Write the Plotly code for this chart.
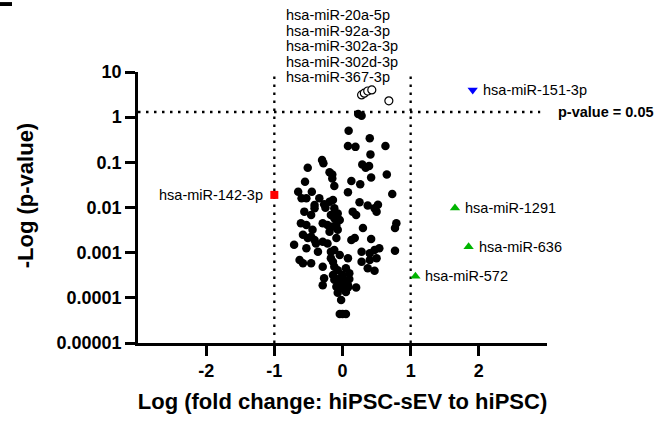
import math
import plotly.graph_objects as go

# ---------------- data ----------------
# non-significant miRNAs (filled black)
black_fc = [0.23, 0.28, 0.09, 0.08, 0.19, 0.40, 0.63, 0.41, -0.30, -0.28,
            -0.51, 0.29, 0.34, 0.39, -0.19, -0.15, 0.65, 0.42, -0.15, -0.55,
            0.13, 0.26, -0.12, -0.65, -0.60, -0.45, 0.08, 0.73, -0.34, -0.53,
            -0.14, 0.25, 0.37, 0.52, -0.27, -0.41, -0.19, -0.56, -0.46, -0.17,
            -0.12, -0.07, 0.15, 0.20, 0.50, -0.61, -0.53, -0.29, -0.22, -0.09,
            -0.14, 0.79, 0.77, -0.44, -0.19, -0.07, 0.30, -0.58, -0.51, -0.41,
            -0.29, -0.22, -0.71, -0.09, 0.13, 0.18, 0.42, -0.53, -0.36, -0.17,
            -0.12, 0.28, 0.40, 0.47, 0.54, 0.77, -0.17, -0.14, 0.08, 0.28,
            0.40, 0.50, -0.63, -0.58, -0.46, -0.29, -0.12, -0.07, 0.05, 0.37,
            0.47, -0.14, 0.00, 0.10, -0.27, -0.29, -0.12, -0.04, 0.05, -0.09,
            0.00, 0.08, 0.20, -0.07, 0.05, -0.02, -0.04, 0.00, 0.05,
            0.47, -0.04, -0.04, 0.00, 0.10, -0.39, -0.46, -0.04, 0.08, -0.25,
            -0.12, -0.41]
black_p = [1.17, 1.08, 0.50, 0.23, 0.22, 0.34, 0.23, 0.15, 0.112, 0.095,
           0.076, 0.090, 0.076, 0.083, 0.060, 0.054, 0.054, 0.046, 0.044, 0.037,
           0.0385, 0.0326, 0.030, 0.0224, 0.0160, 0.0224, 0.0217, 0.0199, 0.0160, 0.0160,
           0.0147, 0.0130, 0.0111, 0.0115, 0.0118, 0.0114, 0.0134, 0.0081, 0.0068, 0.0068,
           0.0058, 0.0074, 0.0081, 0.0068, 0.0081, 0.0045, 0.0041, 0.0045, 0.0041, 0.0041,
           0.0038, 0.0045, 0.0035, 0.0032, 0.0029, 0.0032, 0.0035, 0.0025, 0.0021, 0.0019,
           0.00175, 0.0016, 0.0015, 0.0021, 0.0019, 0.0021, 0.0020, 0.00125, 0.00105, 0.00105,
           0.00115, 0.00105, 0.00097, 0.00115, 0.00125, 0.0011, 0.00075, 0.00063, 0.00075, 0.00063,
           0.00069, 0.00075, 0.00069, 0.00058, 0.00058, 0.00049, 0.00049, 0.00041, 0.00045, 0.00045,
           0.0004, 0.00032, 0.00032, 0.00035, 0.00027, 0.00019, 0.00025, 0.00027, 0.00023, 0.000176,
           0.000163, 0.00017, 0.00017, 0.00013, 0.000135, 0.00009, 0.000044, 0.000044, 0.000044,
           0.0096, 0.0053, 0.00089, 0.00025, 0.00026, 0.0016, 0.00225, 0.00019, 0.00019, 0.0099,
           0.0096, 0.0096]

# significant miRNAs (open circles)
open_fc = [0.28, 0.32, 0.37, 0.43, 0.68]
open_p = [3.1, 3.4, 3.8, 4.0, 2.3]
open_names = ["hsa-miR-20a-5p", "hsa-miR-92a-3p", "hsa-miR-302a-3p",
              "hsa-miR-302d-3p", "hsa-miR-367-3p"]

# highlighted miRNAs
down_name, down_fc, down_p = "hsa-miR-142-3p", -1.0, 0.019
blue_name, blue_fc, blue_p = "hsa-miR-151-3p", 1.91, 4.0
green_names = ["hsa-miR-1291", "hsa-miR-636", "hsa-miR-572"]
green_fc = [1.65, 1.85, 1.07]
green_p = [0.0098, 0.00135, 0.0003]

p_threshold = 1.301  # -log10(0.05)
fc_thresholds = [-1, 1]

y_tickvals = [0.00001, 0.0001, 0.001, 0.01, 0.1, 1, 10]
y_ticktext = ["0.00001", "0.0001", "0.001", "0.01", "0.1", "1", "10"]
x_tickvals = [-2, -1, 0, 1, 2]
x_ticktext = ["-2", "-1", "0", "1", "2"]

x_title = "Log (fold change: hiPSC-sEV to hiPSC)"
y_title = "-Log (p-value)"

FONT = "Arial, Liberation Sans, sans-serif"

fig = go.Figure()

dotdash = "2.5px,5.5px"
# threshold lines
for fx in fc_thresholds:
    fig.add_trace(go.Scatter(x=[fx, fx], y=[0.00001, 10], mode="lines",
                             line=dict(color="black", width=2.3, dash=dotdash),
                             hoverinfo="skip", showlegend=False))
fig.add_trace(go.Scatter(x=[-3, 2.9], y=[p_threshold, p_threshold], mode="lines",
                         line=dict(color="black", width=2.3, dash=dotdash),
                         hoverinfo="skip", showlegend=False))

fig.add_trace(go.Scatter(x=black_fc, y=black_p, mode="markers",
                         marker=dict(color="black", size=8.5, line=dict(width=0)),
                         showlegend=False))
fig.add_trace(go.Scatter(x=open_fc, y=open_p, mode="markers",
                         marker=dict(color="white", size=8,
                                     line=dict(color="black", width=1.2)),
                         showlegend=False))
fig.add_trace(go.Scatter(x=[down_fc], y=[down_p], mode="markers",
                         marker=dict(color="#ff0000", symbol="square", size=8,
                                     line=dict(width=0)),
                         showlegend=False))
fig.add_trace(go.Scatter(x=[blue_fc], y=[blue_p], mode="markers",
                         marker=dict(color="#0000ff", symbol="triangle-down", size=9,
                                     line=dict(width=0)),
                         showlegend=False))
fig.add_trace(go.Scatter(x=green_fc, y=green_p, mode="markers",
                         marker=dict(color="#00b400", symbol="triangle-up", size=9,
                                     line=dict(width=0)),
                         showlegend=False))

ann = []
lab_font = dict(family=FONT, size=14.5, color="black")
ann.append(dict(x=down_fc, y=math.log10(down_p), xref="x", yref="y", text=down_name,
                showarrow=False, xanchor="right", yanchor="middle", xshift=-9,
                font=lab_font))
ann.append(dict(x=blue_fc, y=math.log10(blue_p), xref="x", yref="y", text=blue_name,
                showarrow=False, xanchor="left", yanchor="middle", xshift=8,
                font=lab_font))
for n, fx, py in zip(green_names, green_fc, green_p):
    ann.append(dict(x=fx, y=math.log10(py), xref="x", yref="y", text=n,
                    showarrow=False, xanchor="left", yanchor="middle", xshift=8,
                    font=lab_font))
top_y = [1.2103, 1.1524, 1.0959, 1.0380, 0.9827]
for n, ty in zip(open_names, top_y):
    ann.append(dict(x=-0.853, y=ty, xref="x", yref="paper", text=n,
                    showarrow=False, xanchor="left", yanchor="middle",
                    font=lab_font))
ann.append(dict(x=1.022, y=math.log10(p_threshold), xref="paper", yref="y",
                text="<b>p-value = 0.05</b>", showarrow=False, xanchor="left",
                yanchor="middle", font=dict(family=FONT, size=14.5, color="black")))
# y-axis title (placed slightly above the plot centre, as in the reference)
ann.append(dict(x=-0.276, y=0.542, xref="paper", yref="paper", text=y_title,
                textangle=-90, showarrow=False, xanchor="center", yanchor="middle",
                font=dict(family=FONT, size=22, weight="bold", color="black")))

fig.update_layout(
    width=672, height=421,
    margin=dict(l=138, r=125, t=72, b=78, autoexpand=False),
    plot_bgcolor="white", paper_bgcolor="white",
    font=dict(family=FONT, color="black"),
    annotations=ann,
    shapes=[dict(type="rect", xref="paper", yref="paper",
                 x0=-0.3374, x1=-0.308, y0=1.2435, y1=1.258,
                 fillcolor="black", line=dict(width=0))],
    xaxis=dict(range=[-3, 3], tickvals=x_tickvals, ticktext=x_ticktext,
               ticks="outside", ticklen=10,
               tickwidth=2.5, tickcolor="black", showline=True, linecolor="black",
               linewidth=2.5, showgrid=False, zeroline=False, ticklabelstandoff=0,
               automargin=False,
               tickfont=dict(family=FONT, size=18, weight="bold"),
               title=dict(text=x_title,
                          font=dict(family=FONT, size=22, weight="bold"),
                          standoff=14)),
    yaxis=dict(type="log", range=[-5, 1], tickvals=y_tickvals, ticktext=y_ticktext,
               ticks="outside", ticklen=10, tickwidth=2.5, tickcolor="black",
               showline=True, linecolor="black", linewidth=2.5, showgrid=False,
               zeroline=False, automargin=False,
               tickfont=dict(family=FONT, size=18, weight="bold")),
)

fig.write_html("out.html")
